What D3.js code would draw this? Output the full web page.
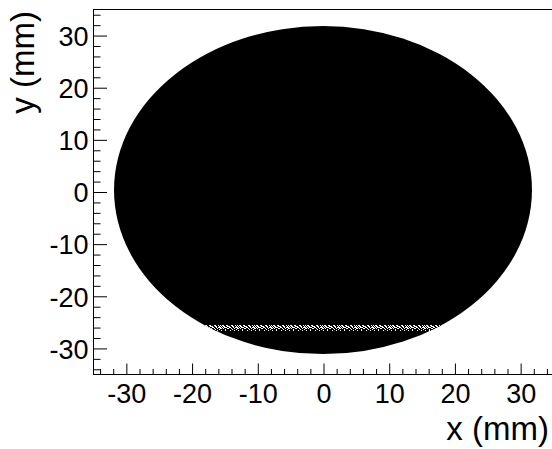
<!DOCTYPE html>
<html>
<head>
<meta charset="utf-8">
<script src="https://cdn.jsdelivr.net/npm/d3@7"></script>
<style>
  html, body { margin: 0; padding: 0; background: #fff; }
  svg { display: block; }
  text { font-family: "Liberation Sans", Arial, Helvetica, sans-serif; fill: #000; }
</style>
</head>
<body>
<svg id="chart" width="552" height="449"></svg>
<script>
// Axis ranges and labelled ticks (mm)
const xDomain = [-35, 35];
const yDomain = [-35, 35];
const xTickLabels = [-30, -20, -10, 0, 10, 20, 30];
const yTickLabels = [-30, -20, -10, 0, 10, 20, 30];
const minorStep = 2;

// Beam spot: centre (x, y) and semi-axes (rx, ry) in mm
const spotCenter = [0, 0.27];
const spotSemiAxes = [31.8, 31.45];

// Sparse band inside the spot: y position and half-thickness in mm
const bandY = [-26.1];
const bandHalfWidth = 0.55;

const W = 552, H = 449;
const margin = { left: 93, right: -1, top: 9, bottom: 75 };

const svg = d3.select("#chart");

const x = d3.scaleLinear().domain(xDomain).range([margin.left, W - margin.right]);
const y = d3.scaleLinear().domain(yDomain).range([H - margin.bottom, margin.top]);

const defs = svg.append("defs");

// Clip marks to the frame
defs.append("clipPath").attr("id", "frame-clip")
  .append("rect")
  .attr("x", x(xDomain[0])).attr("y", y(yDomain[1]))
  .attr("width", x(xDomain[1]) - x(xDomain[0]))
  .attr("height", y(yDomain[0]) - y(yDomain[1]));

// Clip for the band: the spot itself
defs.append("clipPath").attr("id", "spot-clip")
  .append("ellipse")
  .attr("cx", x(spotCenter[0])).attr("cy", y(spotCenter[1]))
  .attr("rx", x(spotSemiAxes[0]) - x(0))
  .attr("ry", y(0) - y(spotSemiAxes[1]));

// Speckle texture for the sparse band (fixed cell layout)
const pat = defs.append("pattern").attr("id", "speckle")
  .attr("patternUnits", "userSpaceOnUse")
  .attr("width", 17).attr("height", 6);
pat.append("rect").attr("width", 17).attr("height", 6).attr("fill", "#000");
const speckCells = [
  [0,0],[4,0],[9,0],[13,0],
  [1,1],[2,1],[5,1],[6,1],[10,1],[11,1],[14,1],[16,1],
  [0,2],[2,2],[3,2],[6,2],[7,2],[8,2],[11,2],[12,2],[15,2],
  [1,3],[3,3],[4,3],[5,3],[8,3],[9,3],[12,3],[14,3],[15,3],[16,3],
  [0,4],[2,4],[6,4],[7,4],[10,4],[13,4],[16,4],
  [4,5],[11,5],[15,5]
];
pat.selectAll("rect.s").data(speckCells).join("rect")
  .attr("class", "s")
  .attr("x", d => d[0]).attr("y", d => d[1])
  .attr("width", 1).attr("height", 1)
  .attr("fill", "#fff");

const plot = svg.append("g").attr("clip-path", "url(#frame-clip)");

// Beam spot
plot.append("ellipse")
  .attr("cx", x(spotCenter[0])).attr("cy", y(spotCenter[1]))
  .attr("rx", x(spotSemiAxes[0]) - x(0))
  .attr("ry", y(0) - y(spotSemiAxes[1]))
  .attr("fill", "#000");

// Sparse band
plot.append("g").attr("clip-path", "url(#spot-clip)")
  .selectAll("rect").data(bandY).join("rect")
  .attr("x", x(xDomain[0]))
  .attr("width", x(xDomain[1]) - x(xDomain[0]))
  .attr("y", d => Math.round(y(d + bandHalfWidth)))
  .attr("height", d => Math.round(y(d - bandHalfWidth) - y(d + bandHalfWidth)))
  .attr("fill", "url(#speckle)");

// Frame
svg.append("rect")
  .attr("x", x(xDomain[0]) + 0.5).attr("y", y(yDomain[1]) + 0.5)
  .attr("width", x(xDomain[1]) - x(xDomain[0]))
  .attr("height", y(yDomain[0]) - y(yDomain[1]))
  .attr("fill", "none").attr("stroke", "#000").attr("stroke-width", 1);

const xMajorLen = 11, xMinorLen = 5.5;
const yMajorLen = 13.5, yMinorLen = 7;

const minorX = d3.range(-34, 35, minorStep).filter(v => !xTickLabels.includes(v));
const minorY = d3.range(-34, 35, minorStep).filter(v => !yTickLabels.includes(v));

const fmt = d => d < 0 ? "-" + Math.abs(d) : String(d);

// X axis (ticks drawn inward)
const xAxis = d3.axisBottom(x).tickValues(xTickLabels).tickSize(-xMajorLen).tickPadding(9).tickFormat(fmt);
const gx = svg.append("g").attr("transform", `translate(0.5,${y(yDomain[0]) + 0.5})`).call(xAxis);
gx.select(".domain").remove();
gx.selectAll(".tick line").attr("stroke", "#000");
gx.selectAll(".tick text").attr("font-size", 27).attr("fill", "#000");
const xMinorAxis = d3.axisBottom(x).tickValues(minorX).tickSize(-xMinorLen).tickFormat("");
const gxm = svg.append("g").attr("transform", `translate(0.5,${y(yDomain[0]) + 0.5})`).call(xMinorAxis);
gxm.select(".domain").remove();
gxm.selectAll(".tick line").attr("stroke", "#000");

// Y axis (ticks drawn inward)
const yAxis = d3.axisLeft(y).tickValues(yTickLabels).tickSize(-yMajorLen).tickPadding(5).tickFormat(fmt);
const gy = svg.append("g").attr("transform", `translate(${x(xDomain[0]) + 0.5},0.5)`).call(yAxis);
gy.select(".domain").remove();
gy.selectAll(".tick line").attr("stroke", "#000");
gy.selectAll(".tick text").attr("font-size", 27).attr("fill", "#000").attr("dy", "0.36em");
const yMinorAxis = d3.axisLeft(y).tickValues(minorY).tickSize(-yMinorLen).tickFormat("");
const gym = svg.append("g").attr("transform", `translate(${x(xDomain[0]) + 0.5},0.5)`).call(yMinorAxis);
gym.select(".domain").remove();
gym.selectAll(".tick line").attr("stroke", "#000");

// Axis titles
svg.append("text")
  .attr("x", 549).attr("y", 440)
  .attr("text-anchor", "end")
  .attr("font-size", 33)
  .text("x (mm)");

svg.append("text")
  .attr("transform", `translate(34,11) rotate(-90)`)
  .attr("text-anchor", "end")
  .attr("font-size", 33)
  .text("y (mm)");
</script>
</body>
</html>
